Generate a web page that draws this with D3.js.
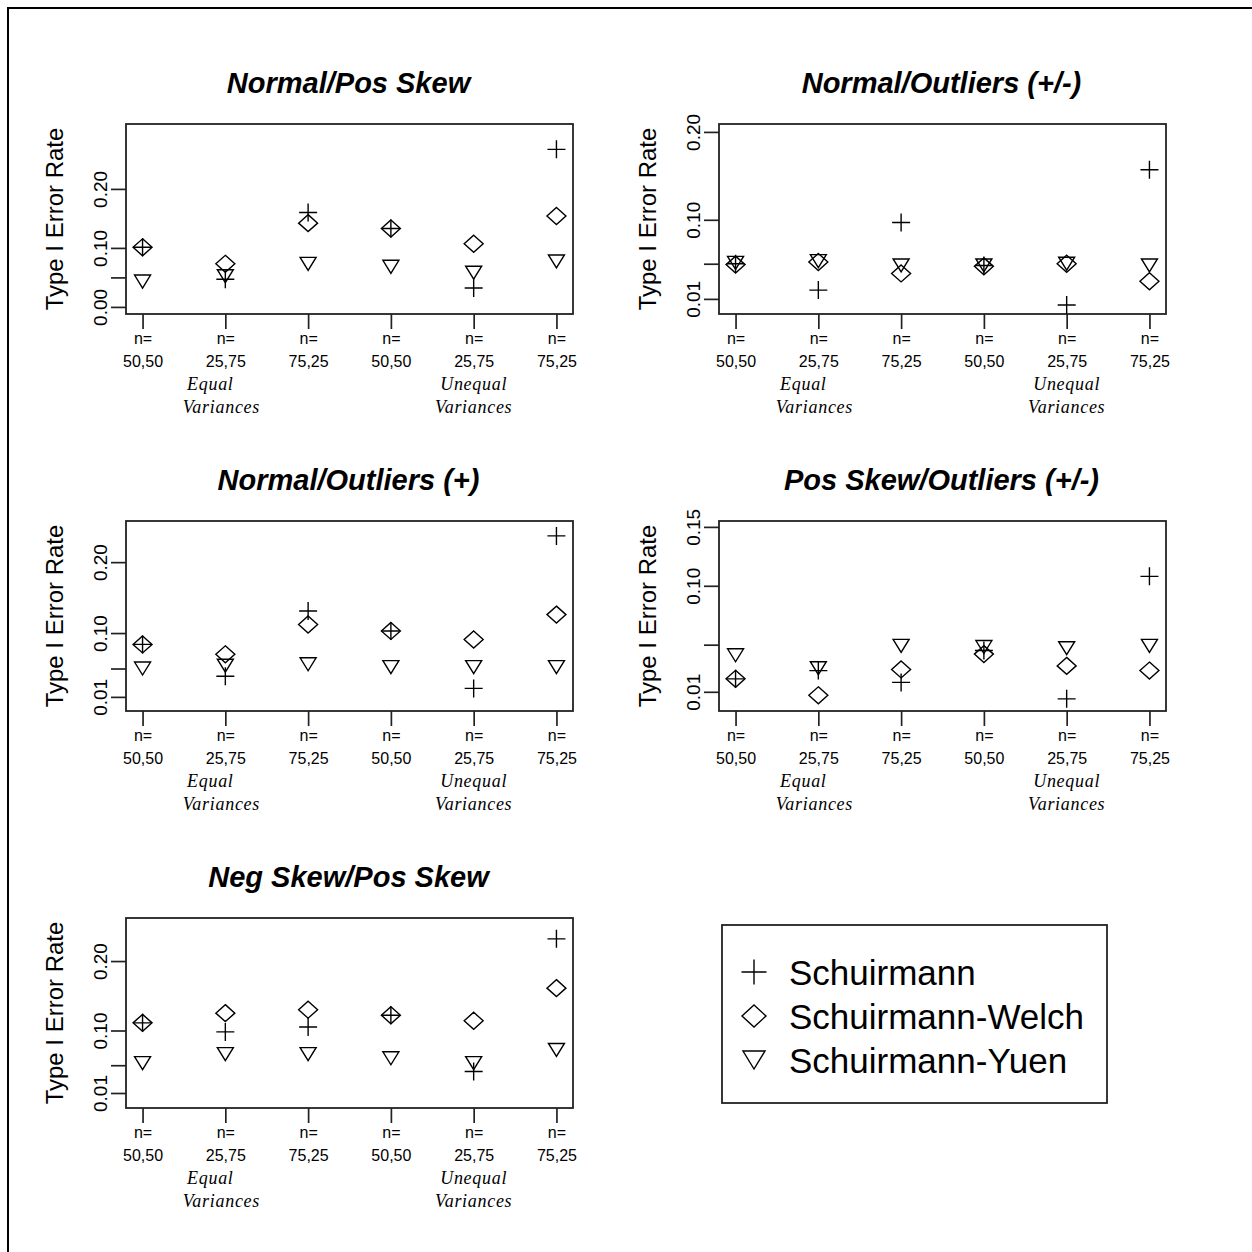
<!DOCTYPE html>
<html>
<head>
<meta charset="utf-8">
<script src="https://cdn.jsdelivr.net/npm/d3@7"></script>
<style>
	body{margin:0;background:#fff}
	text{font-family:"Liberation Sans",Arial,sans-serif;fill:#000}
</style>
</head>
<body>
<svg id="chart" width="1252" height="1252"></svg>
<script>
// panel titles and x categories
const titles = ["Normal/Pos Skew", "Normal/Outliers (+/-)", "Normal/Outliers (+)", "Pos Skew/Outliers (+/-)", "Neg Skew/Pos Skew"];
const sizes = ["50,50", "25,75", "75,25", "50,50", "25,75", "75,25"];
const groupNames = [["Equal", "Variances"], ["Unequal", "Variances"]];
const seriesNames = ["Schuirmann", "Schuirmann-Welch", "Schuirmann-Yuen"];

// type I error rate, one row per panel
const schuirmann = [
	[0.101, 0.047, 0.160, 0.133, 0.032, 0.267],
	[0.050, 0.020, 0.097, 0.048, 0.003, 0.157],
	[0.084, 0.039, 0.131, 0.103, 0.022, 0.237],
	[0.021, 0.028, 0.018, 0.045, 0.004, 0.108],
	[0.111, 0.098, 0.105, 0.122, 0.041, 0.232]
];
const welch = [
	[0.101, 0.073, 0.142, 0.133, 0.107, 0.154],
	[0.049, 0.052, 0.039, 0.047, 0.050, 0.030],
	[0.084, 0.070, 0.112, 0.103, 0.091, 0.126],
	[0.021, 0.007, 0.029, 0.042, 0.032, 0.028],
	[0.111, 0.125, 0.130, 0.122, 0.114, 0.161]
];
const yuen = [
	[0.043, 0.052, 0.073, 0.068, 0.058, 0.077],
	[0.051, 0.053, 0.048, 0.048, 0.050, 0.048],
	[0.050, 0.054, 0.056, 0.052, 0.052, 0.052],
	[0.041, 0.030, 0.049, 0.048, 0.047, 0.049],
	[0.053, 0.066, 0.066, 0.060, 0.053, 0.072]
];

// y axis ticks (all drawn) and the ones that get a label
const yTicks = [
	[0.00, 0.05, 0.10, 0.20],
	[0.01, 0.05, 0.10, 0.20],
	[0.01, 0.05, 0.10, 0.20],
	[0.01, 0.05, 0.10, 0.15],
	[0.01, 0.05, 0.10, 0.20]
];
const yLabelled = [
	[0.00, 0.10, 0.20],
	[0.01, 0.10, 0.20],
	[0.01, 0.10, 0.20],
	[0.01, 0.10, 0.15],
	[0.01, 0.10, 0.20]
];
const yDomains = [[-0.012, 0.31], [-0.0072, 0.209], [-0.0099, 0.258], [-0.0063, 0.155], [-0.0116, 0.262]];

// layout
const boxLeft = [126, 719, 126, 719, 126];
const boxTop = [124, 124, 521, 521, 918];
const W = 447, H = 190;

const svg = d3.select("#chart");

// outer frame (left and top only are visible)
svg.append("path")
	.attr("d", "M8,1252V8H1252")
	.attr("fill", "none")
	.attr("stroke", "#000")
	.attr("stroke-width", 2);

const plus = r => `M${-r},0H${r}M0,${-r}V${r}`;
const diamond = (w, h) => `M0,${-h}L${w},0L0,${h}L${-w},0Z`;
const triDown = (w, h) => `M${-w},${-h}H${w}L0,${h}Z`;
const shapes = [plus(9), diamond(9.5, 8.5), triDown(8, 6.5)];
const legendShapes = [plus(12.5), diamond(12, 11), triDown(11, 9)];

titles.forEach((title, p) => {
	const g = svg.append("g").attr("transform", "translate(" + boxLeft[p] + "," + boxTop[p] + ")");

	const x = d3.scalePoint().domain(d3.range(sizes.length)).range([0, W]).padding(0.2);
	const y = d3.scaleLinear().domain(yDomains[p]).range([H, 0]);

	g.append("text")
		.attr("x", W / 2 - 1)
		.attr("y", -31)
		.attr("text-anchor", "middle")
		.style("font-size", "29px")
		.style("font-weight", "bold")
		.style("font-style", "italic")
		.text(title);

	// y axis
	const fmt = d3.format(".2f");
	const ya = g.append("g")
		.call(d3.axisLeft(y).tickValues(yTicks[p]).tickSize(15)
			.tickFormat(d => yLabelled[p].includes(d) ? fmt(d) : ""));
	ya.select(".domain").remove();
	ya.selectAll(".tick line").attr("stroke", "#222").attr("stroke-width", 1.7);
	ya.selectAll(".tick text")
		.attr("x", null).attr("dy", null)
		.attr("text-anchor", "middle")
		.attr("transform", "translate(-19,0) rotate(-90)")
		.style("font-size", "19px")
		.style("font-family", "'Liberation Sans',Arial,sans-serif")
		.attr("fill", "#000");

	g.append("text")
		.attr("transform", "translate(-63," + (H / 2) + ") rotate(-90)")
		.attr("text-anchor", "middle")
		.style("font-size", "24px")
		.text("Type I Error Rate");

	// x axis
	const xa = g.append("g")
		.attr("transform", "translate(0," + H + ")")
		.call(d3.axisBottom(x).tickSize(15).tickFormat(""));
	xa.select(".domain").remove();
	xa.selectAll(".tick line").attr("stroke", "#222").attr("stroke-width", 1.7);
	xa.selectAll(".tick").each(function (d) {
		const t = d3.select(this);
		t.append("text").attr("y", 30).attr("text-anchor", "middle")
			.style("font-size", "16px").text("n=");
		t.append("text").attr("y", 53).attr("text-anchor", "middle")
			.style("font-size", "16px").text(sizes[d]);
	});

	// group labels below the axis
	const gx = [[x(1) - 15, x(1) - 4], [x(4), x(4)]];
	groupNames.forEach((names, k) => {
		names.forEach((name, j) => {
			g.append("text")
				.attr("x", gx[k][j])
				.attr("y", H + 76 + j * 23)
				.attr("text-anchor", "middle")
				.style("font-family", "'Liberation Serif','Times New Roman',serif")
				.style("font-style", "italic")
				.style("font-size", "18px")
				.style("letter-spacing", "0.7px")
				.text(name);
		});
	});

	// plot box
	g.append("rect")
		.attr("width", W).attr("height", H)
		.attr("fill", "none")
		.attr("stroke", "#222")
		.attr("stroke-width", 1.8);

	// points
	[schuirmann, welch, yuen].forEach((series, s) => {
		g.append("g").selectAll("path")
			.data(series[p])
			.join("path")
			.attr("transform", (v, i) => "translate(" + x(i) + "," + y(v) + ")")
			.attr("d", shapes[s])
			.attr("fill", "none")
			.attr("stroke", "#000")
			.attr("stroke-width", 1.4);
	});
});

// legend
const lg = svg.append("g").attr("transform", "translate(722,925)");
lg.append("rect")
	.attr("width", 385).attr("height", 178)
	.attr("fill", "none")
	.attr("stroke", "#222")
	.attr("stroke-width", 1.8);
seriesNames.forEach((name, i) => {
	lg.append("path")
		.attr("transform", "translate(32," + (47 + i * 44) + ")")
		.attr("d", legendShapes[i])
		.attr("fill", "none")
		.attr("stroke", "#000")
		.attr("stroke-width", 1.4);
	lg.append("text")
		.attr("x", 67)
		.attr("y", 60 + i * 44)
		.style("font-size", "35px")
		.text(name);
});
</script>
</body>
</html>
